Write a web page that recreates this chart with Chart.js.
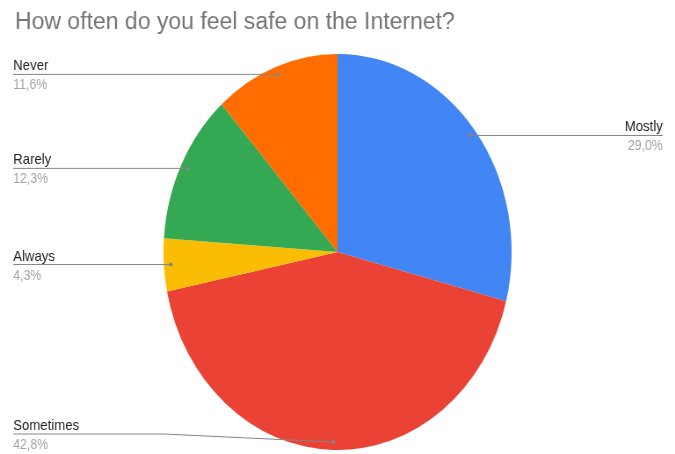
<!DOCTYPE html>
<html>
<head>
<meta charset="utf-8">
<title>How often do you feel safe on the Internet?</title>
<script src="https://cdn.jsdelivr.net/npm/chart.js@4"></script>
<style>
    html, body {
        margin: 0;
        padding: 0;
        background: #ffffff;
        overflow: hidden;
    }
    /* the chart is drawn wide and squeezed horizontally */
    #wrap {
        width: 768px;
        height: 454px;
        transform: scaleX(0.879);
        transform-origin: 0 0;
    }
</style>
</head>
<body>
<div id="wrap">
    <canvas id="safetyChart" width="768" height="454"></canvas>
</div>
<script>
const categories = ['Mostly', 'Sometimes', 'Always', 'Rarely', 'Never'];
const shares = [29.0, 42.8, 4.3, 12.3, 11.6];
const sliceColors = ['#4285f4', '#ea4335', '#fbbc04', '#34a853', '#ff6d01'];

const chartTitle = 'How often do you feel safe on the Internet?';
const squeeze = 0.879;

function formatShare(v) {
    return v.toFixed(1).replace('.', ',') + '%';
}

// title keeps its normal width, so undo the squeeze while drawing it
const wideTitle = {
    id: 'wideTitle',
    afterDraw(chart) {
        const ctx = chart.ctx;
        ctx.save();
        ctx.translate(17, 29);
        ctx.scale(1 / squeeze, 1);
        ctx.font = '23px "Liberation Sans", Arial, sans-serif';
        ctx.fillStyle = '#757575';
        ctx.textAlign = 'left';
        ctx.textBaseline = 'alphabetic';
        ctx.fillText(chartTitle, 0, 0);
        ctx.restore();
    }
};

// leader lines + labels on both sides of the pie
const sideLabels = {
    id: 'sideLabels',
    afterDatasetsDraw(chart) {
        const ctx = chart.ctx;
        const meta = chart.getDatasetMeta(0);
        const leftX = 15;
        const rightX = 754;
        const maxY = chart.height - 20;

        ctx.save();
        meta.data.forEach((arc, i) => {
            const p = arc.getProps(['x', 'y', 'startAngle', 'endAngle', 'outerRadius'], true);
            const mid = (p.startAngle + p.endAngle) / 2;
            const dotX = p.x + Math.cos(mid) * p.outerRadius * 0.96;
            const dotY = p.y + Math.sin(mid) * p.outerRadius * 0.96;
            const onLeft = dotX < p.x;
            const lineY = Math.min(dotY, maxY);
            const endX = onLeft ? leftX : rightX;

            ctx.strokeStyle = '#858585';
            ctx.lineWidth = 1;
            ctx.beginPath();
            ctx.moveTo(endX, lineY);
            if (lineY !== dotY) {
                const bendX = onLeft ? p.x - p.outerRadius : p.x + p.outerRadius;
                ctx.lineTo(bendX, lineY);
            }
            ctx.lineTo(dotX, dotY);
            ctx.stroke();

            ctx.fillStyle = '#858585';
            ctx.beginPath();
            ctx.arc(dotX, dotY, 2, 0, Math.PI * 2);
            ctx.fill();

            ctx.textAlign = onLeft ? 'left' : 'right';
            ctx.textBaseline = 'alphabetic';
            ctx.font = '15px "Liberation Sans", Arial, sans-serif';
            ctx.fillStyle = '#222222';
            ctx.fillText(categories[i], endX, lineY - 4);

            ctx.font = '14px "Liberation Sans", Arial, sans-serif';
            ctx.fillStyle = '#a3a3a3';
            ctx.fillText(formatShare(shares[i]), endX, lineY + 15);
        });
        ctx.restore();
    }
};

const config = {
    type: 'pie',
    data: {
        labels: categories,
        datasets: [{
            data: shares,
            backgroundColor: sliceColors,
            borderWidth: 0
        }]
    },
    options: {
        responsive: false,
        animation: false,
        layout: {
            padding: { top: 54, bottom: 4, left: 14, right: 14 }
        },
        plugins: {
            legend: { display: false },
            tooltip: { enabled: false },
            title: { display: false }
        }
    },
    plugins: [sideLabels, wideTitle]
};

const safetyChart = new Chart(document.getElementById('safetyChart'), config);
</script>
</body>
</html>
